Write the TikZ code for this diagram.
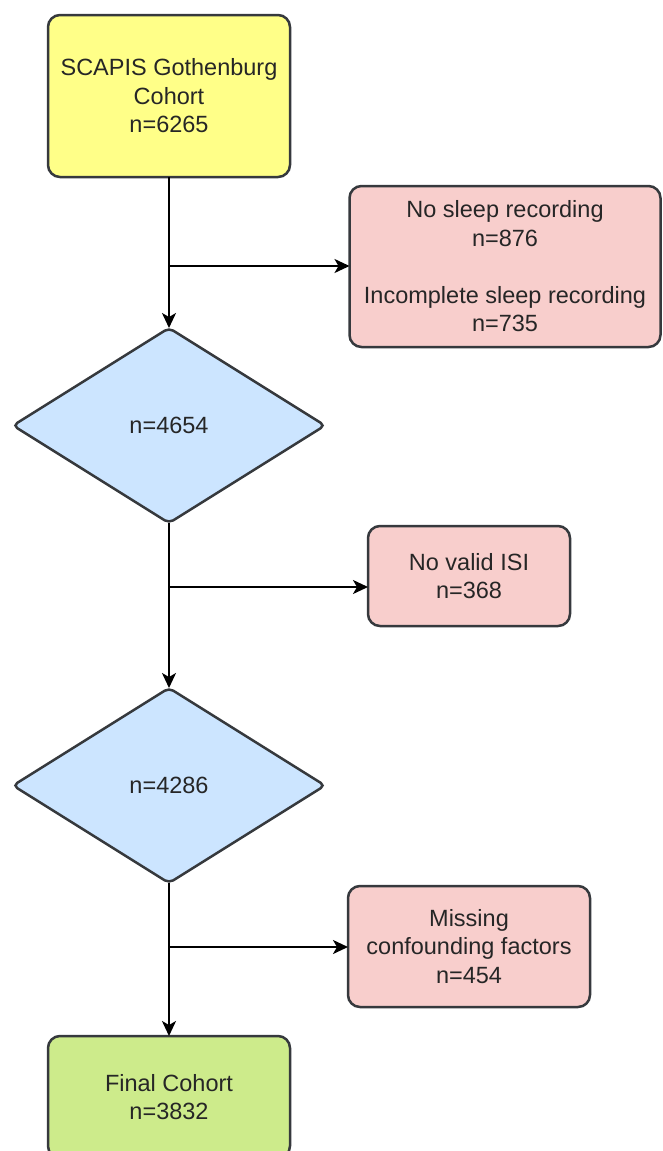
\documentclass[tikz,border=0pt]{standalone}
\usepackage{fontspec}
\setmainfont{Liberation Sans}
\usetikzlibrary{shapes.geometric,arrows.meta}
\definecolor{yfill}{HTML}{FFFF88}
\definecolor{rfill}{HTML}{F8CECC}
\definecolor{bfill}{HTML}{CCE5FF}
\definecolor{gfill}{HTML}{CDEB8B}
\definecolor{strk}{HTML}{36393D}
\tikzset{
  box/.style={rectangle, rounded corners=12pt, draw=strk, line width=2.5pt, align=center, inner sep=0pt, outer sep=0pt, text=black!85, font=\fontsize{23.5}{28.5}\selectfont},
  dia/.style={diamond, rounded corners=5pt, draw=strk, line width=2.5pt, fill=bfill, inner sep=0pt, outer sep=0pt, text=black!85, minimum width=312pt, minimum height=195pt, font=\fontsize{23.5}{28.5}\selectfont},
  conn/.style={line width=2pt, black, -{Stealth[length=15pt,width=14pt,inset=4pt]}},
  seg/.style={line width=2pt, black}
}
\begin{document}
\begin{tikzpicture}[x=1pt,y=-1pt]
\useasboundingbox (0,0) rectangle (662,1151);
\clip (0,0) rectangle (662,1151);
\node[box, fill=yfill, minimum width=242pt, minimum height=162pt] (start) at (169,96) {SCAPIS Gothenburg\\Cohort\\n=6265};
\node[box, fill=rfill, minimum width=311pt, minimum height=161pt] (r1) at (505,266.5) {No sleep recording\\n=876\\[28.5pt]Incomplete sleep recording\\n=735};
\node[dia] (d1) at (169,425.5) {n=4654};
\node[box, fill=rfill, minimum width=202pt, minimum height=100pt] (r2) at (469,576) {No valid ISI\\n=368};
\node[dia] (d2) at (169,785.5) {n=4286};
\node[box, fill=rfill, minimum width=242pt, minimum height=121pt] (r3) at (469,946.5) {Missing\\confounding factors\\n=454};
\node[box, fill=gfill, minimum width=242pt, minimum height=122pt] (fin) at (169,1097) {Final Cohort\\n=3832};
\coordinate (b1) at (169,266);
\coordinate (b2) at (169,587);
\coordinate (b3) at (169,947);
\draw[conn] (start.south) -- (d1.north);
\draw[conn] (b1) -- (b1 -| r1.west);
\draw[conn] (d1.south) -- (d2.north);
\draw[conn] (b2) -- (b2 -| r2.west);
\draw[conn] (d2.south) -- (fin.north);
\draw[conn] (b3) -- (b3 -| r3.west);
\end{tikzpicture}
\end{document}
